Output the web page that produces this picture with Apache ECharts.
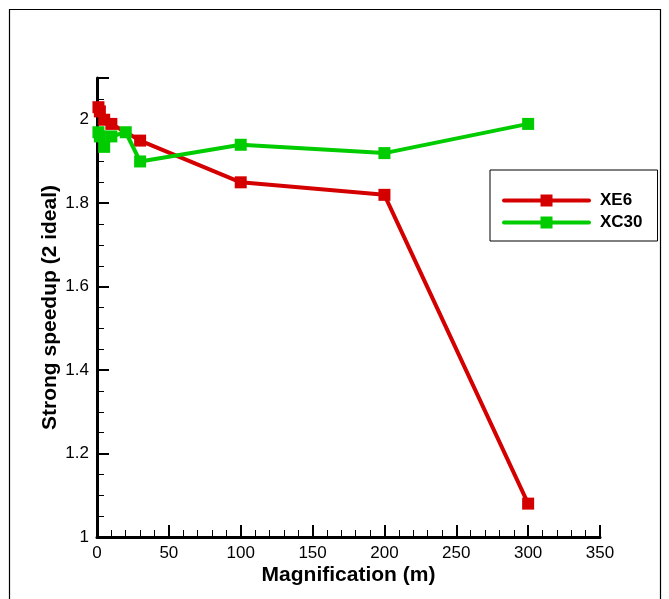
<!DOCTYPE html>
<html><head><meta charset="utf-8">
<script src="https://cdn.jsdelivr.net/npm/echarts@6/dist/echarts.min.js"></script>
<style>html,body{margin:0;padding:0;background:#fff}#c{width:669px;height:599px}</style>
</head><body><div id="c"></div>
<script>
const xe6X = [1, 2, 5, 10, 30, 100, 200, 300];
const xe6Y = [2.03, 2.02, 2.0, 1.99, 1.95, 1.85, 1.82, 1.08];
const xc30X = [1, 2, 5, 10, 20, 30, 100, 200, 300];
const xc30Y = [1.97, 1.96, 1.935, 1.96, 1.97, 1.90, 1.94, 1.92, 1.99];
const seriesNames = ['XE6', 'XC30'];
const xTitle = 'Magnification (m)';
const yTitle = 'Strong speedup (2 ideal)';

const font = '"Liberation Sans", Arial, Helvetica, sans-serif';
const chart = echarts.init(document.getElementById('c'), null, {renderer: 'canvas'});
const pair = (xs, ys) => xs.map((x, i) => [x, ys[i]]);
chart.setOption({
  animation: false,
  backgroundColor: '#fff',
  grid: {left: 97, right: 69, top: 78, bottom: 62, containLabel: false},
  graphic: [{type: 'rect', shape: {x: 9.5, y: 9.5, width: 651, height: 600}, style: {fill: 'none', stroke: '#000', lineWidth: 1.2}, silent: true}],
  legend: {
    orient: 'vertical', left: 490, top: 170,
    data: seriesNames,
    itemWidth: 85, itemHeight: 15, itemGap: 5,
    padding: [22, 15, 10, 12],
    borderColor: '#000', borderWidth: 1,
    lineStyle: {width: 4, cap: 'round'},
    textStyle: {fontFamily: font, fontWeight: 'bold', fontSize: 17, color: '#000', padding: [0, 0, 0, 6]}
  },
  xAxis: {
    type: 'value', min: 0, max: 350, interval: 50,
    name: xTitle, nameLocation: 'middle', nameGap: 28, nameMoveOverlap: false,
    nameTextStyle: {fontFamily: font, fontWeight: 'bold', fontSize: 21, color: '#000'},
    axisLine: {onZero: false, lineStyle: {color: '#000', width: 3}},
    axisTick: {inside: true, length: 12, lineStyle: {color: '#000', width: 2}},
    minorTick: {show: true, splitNumber: 5, length: 7, lineStyle: {color: '#000', width: 1}},
    axisLabel: {fontFamily: font, fontSize: 17, color: '#000', margin: 8},
    splitLine: {show: false}
  },
  yAxis: {
    type: 'value', min: 1, max: 2.1, interval: 0.2,
    name: yTitle, nameLocation: 'middle', nameGap: 36, nameMoveOverlap: false,
    nameTextStyle: {fontFamily: font, fontWeight: 'bold', fontSize: 21, color: '#000'},
    axisLine: {onZero: false, lineStyle: {color: '#000', width: 3}},
    axisTick: {inside: true, length: 12, lineStyle: {color: '#000', width: 2}},
    minorTick: {show: true, splitNumber: 4, length: 7, lineStyle: {color: '#000', width: 1}},
    axisLabel: {fontFamily: font, fontSize: 17, color: '#000', margin: 8, showMaxLabel: false,
      formatter: v => (Math.abs(v - 2.1) < 1e-6 ? '' : String(+v.toFixed(1)))},
    splitLine: {show: false}
  },
  series: [
    {name: seriesNames[0], type: 'line', data: pair(xe6X, xe6Y), symbol: 'rect', symbolSize: 12,
     lineStyle: {color: '#d40000', width: 4}, itemStyle: {color: '#d40000'}, z: 2},
    {name: seriesNames[1], type: 'line', data: pair(xc30X, xc30Y), symbol: 'rect', symbolSize: 12,
     lineStyle: {color: '#00cc00', width: 4}, itemStyle: {color: '#00cc00'}, z: 3}
  ]
});
</script></body></html>
